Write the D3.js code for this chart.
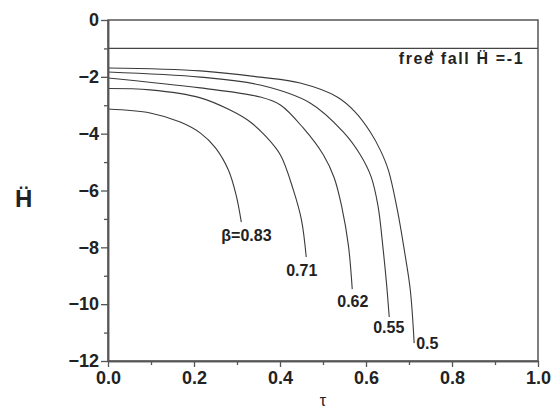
<!DOCTYPE html>
<html>
<head>
<meta charset="utf-8">
<script src="https://cdn.jsdelivr.net/npm/d3@7"></script>
<style>
  body { margin: 0; background: #fff; }
  svg text { font-family: "Liberation Sans", Arial, "DejaVu Sans", sans-serif; fill: #222; }
  .tick text { font-weight: bold; font-size: 18px; }
  .lbl { font-weight: bold; font-size: 16px; }
</style>
</head>
<body>
<div id="chart"></div>
<script>
// tau / H-double-dot values, one pair of arrays per beta
var beta = ["0.5", "0.55", "0.62", "0.71", "0.83"];
var tau05  = [0, 0.215, 0.354, 0.447, 0.533, 0.575, 0.610, 0.633, 0.652, 0.673, 0.689, 0.703, 0.712];
var h05    = [-1.69, -1.79, -2.01, -2.22, -2.71, -3.24, -3.94, -4.57, -5.28, -6.69, -8.09, -9.50, -11.37];
var tau055 = [0, 0.215, 0.354, 0.470, 0.547, 0.587, 0.612, 0.628, 0.640, 0.648, 0.654];
var h055   = [-1.83, -2.01, -2.29, -2.92, -3.94, -4.75, -5.52, -6.55, -8.09, -9.32, -10.45];
var tau062 = [0, 0.215, 0.354, 0.401, 0.454, 0.501, 0.526, 0.544, 0.559, 0.568];
var h062   = [-2.04, -2.39, -2.71, -2.99, -3.80, -4.75, -5.55, -6.60, -7.92, -9.47];
var tau071 = [0, 0.098, 0.215, 0.284, 0.331, 0.366, 0.401, 0.431, 0.450, 0.461];
var h071   = [-2.41, -2.46, -2.74, -3.17, -3.59, -4.08, -4.75, -5.98, -7.04, -8.34];
var tau083 = [0, 0.098, 0.168, 0.215, 0.250, 0.280, 0.298, 0.310];
var h083   = [-3.13, -3.27, -3.59, -3.98, -4.50, -5.28, -6.16, -7.11];
var freeFall = -1;

var xTicks = [0, 0.2, 0.4, 0.6, 0.8, 1.0];
var yTicks = [0, -2, -4, -6, -8, -10, -12];

var margin = {top: 20, left: 108, right: 21, bottom: 50},
    width = 559 - margin.left - margin.right,
    height = 411 - margin.top - margin.bottom;

var svg = d3.select("#chart").append("svg")
    .attr("width", 559).attr("height", 411);

var g = svg.append("g")
    .attr("transform", "translate(" + margin.left + "," + margin.top + ")");

var x = d3.scaleLinear().domain([0, 1]).range([0, width]);
var y = d3.scaleLinear().domain([-12, 0]).range([height, 0]);

var series = [
    {name: beta[0], t: tau05,  h: h05},
    {name: beta[1], t: tau055, h: h055},
    {name: beta[2], t: tau062, h: h062},
    {name: beta[3], t: tau071, h: h071},
    {name: beta[4], t: tau083, h: h083}
];

var line = d3.line()
    .x(function(d){ return x(d[0]); })
    .y(function(d){ return y(d[1]); })
    .curve(d3.curveCatmullRom.alpha(0.5));

// free fall line
g.append("line")
    .attr("x1", x(0)).attr("x2", x(1))
    .attr("y1", y(freeFall)).attr("y2", y(freeFall))
    .attr("stroke", "#444").attr("stroke-width", 1.1);

g.selectAll(".curve")
    .data(series).enter().append("path")
    .attr("class", "curve")
    .attr("d", function(s){ return line(d3.zip(s.t, s.h)); })
    .attr("fill", "none")
    .attr("stroke", "#3a3a3a")
    .attr("stroke-width", 1.1);

// curve labels, placed just below the end of each curve
var labelOffset = {"0.5": [2, 6], "0.55": [-16, 16], "0.62": [-15, 18], "0.71": [-20, 19], "0.83": [-20, 19]};
g.selectAll(".lbl")
    .data(series).enter().append("text")
    .attr("class", "lbl")
    .attr("x", function(s){ return x(s.t[s.t.length - 1]) + labelOffset[s.name][0]; })
    .attr("y", function(s){ return y(s.h[s.h.length - 1]) + labelOffset[s.name][1]; })
    .text(function(s){ return s.name === "0.83" ? "\u03b2=" + s.name : s.name; });

// frame
g.append("rect")
    .attr("width", width).attr("height", height)
    .attr("fill", "none").attr("stroke", "#555").attr("stroke-width", 1.5);

// axes
g.append("g").attr("transform", "translate(0," + height + ")")
    .call(d3.axisBottom(x).tickValues(xTicks).tickSize(6).tickSizeOuter(0).tickPadding(4)
        .tickFormat(d3.format(".1f")));
g.append("g").attr("transform", "translate(0," + height + ")")
    .call(d3.axisBottom(x).tickValues(d3.range(0.1, 1, 0.2)).tickSize(4).tickSizeOuter(0).tickFormat(""));
g.append("g")
    .call(d3.axisLeft(y).tickValues(yTicks).tickSize(7).tickSizeOuter(0).tickPadding(2)
        .tickFormat(d3.format("d")));
g.append("g")
    .call(d3.axisLeft(y).tickValues([-1, -3, -5, -7, -9, -11]).tickSize(4).tickSizeOuter(0).tickFormat(""));

svg.selectAll(".domain").attr("stroke", "#555").attr("stroke-width", 1.5);
svg.selectAll(".tick line").attr("stroke", "#555").attr("stroke-width", 1.3);

// free fall annotation
g.append("path")
    .attr("d", "M" + (x(0.752) - 2.5) + "," + (y(freeFall) + 7) + "L" + x(0.752) + "," + (y(freeFall) + 1) + "L" + (x(0.752) + 2.5) + "," + (y(freeFall) + 7) + "Z")
    .attr("fill", "#222");
g.append("text")
    .attr("class", "lbl")
    .attr("x", x(0.676)).attr("y", y(freeFall) + 16)
    .attr("textLength", 124).attr("lengthAdjust", "spacing")
    .text("free fall \u1e26  =-1");

// axis titles
svg.append("text")
    .attr("x", 15).attr("y", 207)
    .attr("font-size", 24).attr("font-weight", "bold")
    .text("\u1e26");
svg.append("text")
    .attr("x", margin.left + x(0.5)).attr("y", 406)
    .attr("text-anchor", "middle")
    .attr("font-size", 16)
    .text("\u03c4");
</script>
</body>
</html>
